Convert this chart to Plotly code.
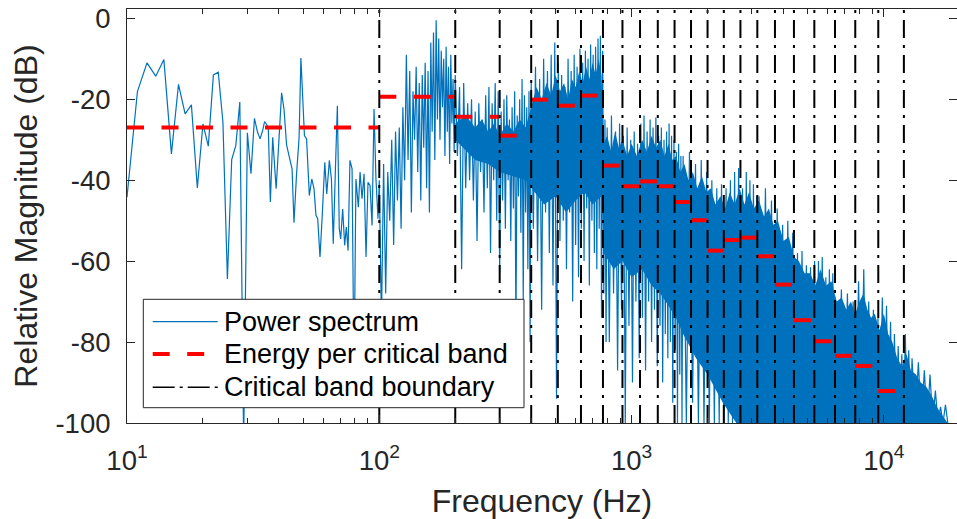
import plotly.graph_objects as go

# ---------------- data ----------------
# Power spectrum, 10-100 Hz (individual samples)
low_freq = [10, 11, 12, 13, 14, 15, 16, 17, 18, 19, 20, 21, 22, 23, 24, 25, 26, 27, 28, 29, 30, 31, 32,
            32.9, 33.7, 34.5, 35.1, 35.8, 36.3, 37.0, 37.8, 39.0, 39.9, 41.0, 41.9, 42.9, 44.0, 45.1, 45.9,
            47.0, 48.1, 48.9, 50.5, 51.5, 52.8, 54.0, 55.1, 56.1, 57.0, 58.2, 59.5, 60.8, 61.9, 63.4, 64.6,
            65.7, 67.0, 68.2, 69.4, 70.3, 71.6, 72.9, 74.0, 75.2, 76.5, 78.0, 79.4, 80.8, 82.6, 83.9, 85.4,
            87.0, 88.6, 90.2, 91.9, 93.6, 95.3, 97.0, 98.8]
low_db = [-44.2, -18.1, -11.0, -14.3, -10.2, -33.5, -16.3, -23.6, -21.4, -41.9, -26.1, -31.6, -14.0, -13.3, -25.7, -64.4, -34.9, -31.4, -20.7, -105, -28.3, -38.4, -24.7,
          -28.1, -29.8, -27.7, -25.5, -26.3, -26.9, -45.4, -29.4, -42.1, -31.4, -18.4, -22.4, -31.3, -34.3, -37.2, -50.5,
          -38.4, -29.4, -9.8, -29.0, -29.8, -43.8, -39.7, -42.1, -48.7, -49.5, -59.0, -47.9, -35.6, -43.4, -35.1, -39.7,
          -55.7, -37.2, -21.6, -52.0, -54.5, -47.1, -56.1, -51.6, -57.4, -35.1, -37.2, -90, -39.7, -46.7, -38.0, -44.6,
          -38.4, -59.0, -40.5, -41.3, -51.2, -22.4, -39.7, -49.5]

# Power spectrum above 100 Hz: alternating peak / trough readings per octave
oct1_freq = [100, 102, 104, 106, 108, 110, 112, 114, 116, 118, 120, 122, 124, 126, 128, 130, 132, 134, 136, 138,
             140, 142, 144, 146, 148, 150, 152, 154, 156, 158, 160, 162, 164, 166, 168, 170, 172, 174, 176, 178,
             180, 182, 184, 186, 188, 190, 192, 194, 196, 198]
oct1_db = [-40, -75, -36, -68, -38, -50, -30, -56, -28, -45, -27, -52, -22, -40, -9, -35, -13, -48, -18, -30,
           -12, -38, -16, -45, -14, -32, -11, -42, -13, -48, -6, -28, -3.5, -35, -0.5, -25, -5, -30, -8, -22,
           -10, -34, -7, -28, -12, -36, -9, -26, -15, -33]

oct2_freq = [200, 204, 208, 212, 216, 220, 224, 228, 232, 236, 240, 244, 248, 252, 256, 260, 264, 268, 272, 276,
             280, 284, 288, 292, 296, 300, 304, 308, 312, 316, 320, 324, 328, 332, 336, 340, 344, 348, 352, 356,
             360, 364, 368, 372, 376, 380, 384, 388, 392, 396]
oct2_db = [-14, -34, -17, -62, -16, -42, -21, -40, -20, -45, -23, -55, -21, -38, -25, -48, -19, -42, -17, -58,
           -21, -40, -16, -50, -18, -63, -23, -45, -20, -52, -19, -40, -25, -55, -22, -47, -18, -78, -24, -44,
           -20, -53, -15, -70, -19, -48, -22, -62, -18, -80]

oct3_freq = [400, 408, 416, 424, 432, 440, 448, 456, 464, 472, 480, 488, 496, 504, 512, 520, 528, 536, 544, 552,
             560, 568, 576, 584, 592, 600, 608, 616, 624, 632, 640, 648, 656, 664, 672, 680, 688, 696, 704, 712,
             720, 728, 736, 744, 752, 760, 768, 776, 784, 792]
oct3_db = [-16, -52, -12, -60, -15, -72, -10, -48, -13, -58, -9, -66, -6, -94, -11, -55, -14, -50, -17, -62,
           -10, -48, -13, -70, -9, -56, -12, -64, -7.5, -52, -11, -60, -8, -47, -10, -66, -6.5, -50, -9, -58,
           -7, -62, -5, -52, -4.3, -74, -8, -68, -25, -80]

oct4_freq = [800, 816, 832, 848, 864, 880, 896, 912, 928, 944, 960, 976, 992, 1008, 1024, 1040, 1056, 1072, 1088,
             1104, 1120, 1136, 1152, 1168, 1184, 1200, 1216, 1232, 1248, 1264, 1280, 1296, 1312, 1328, 1344, 1360,
             1376, 1392, 1408, 1424, 1440, 1456, 1472, 1488, 1504, 1520, 1536, 1552, 1568, 1584]
oct4_db = [-27, -80, -24, -68, -28, -87, -26, -72, -29, -100, -27, -76, -30, -90, -28, -70, -31, -84, -26,
           -74, -24, -87, -28, -70, -25, -80, -27, -72, -24.5, -86, -29, -76, -27, -90, -30, -78,
           -28, -84, -26, -80, -29, -95, -30, -82, -33, -100, -31, -88, -34, -100]

oct5_freq = [1600, 1648, 1696, 1744, 1792, 1840, 1888, 1936, 1984, 2032, 2080, 2128, 2176, 2224, 2272, 2320, 2368,
             2416, 2464, 2512, 2560, 2608, 2656, 2704, 2752, 2800, 2848, 2896, 2944, 2992, 3040, 3088, 3136, 3184]
oct5_db = [-34, -100, -33, -95, -36, -100, -35, -100, -38, -100, -40, -100, -42, -100, -41, -100, -42,
           -100, -40, -100, -38, -100, -37, -100, -42, -100, -38, -100, -40, -100, -41, -100, -44, -100]

oct6_freq = [3200, 3296, 3392, 3488, 3584, 3680, 3776, 3872, 3968, 4064, 4160, 4256, 4352, 4448, 4544, 4640, 4736,
             4832, 4928, 5024, 5120, 5216, 5312, 5408, 5504, 5600, 5696, 5792, 5888, 5984, 6080, 6176, 6272, 6368]
oct6_db = [-44, -100, -42, -100, -45, -100, -47, -100, -51, -100, -50, -100, -53, -100, -58, -100, -57.5,
           -100, -61, -100, -61.5, -100, -60, -100, -60, -100, -59, -100, -64, -100, -62, -100, -63, -100]

oct7_freq = [6400, 6592, 6784, 6976, 7168, 7360, 7552, 7744, 7936, 8128, 8320, 8512, 8704, 8896, 9088, 9280, 9472,
             9664, 9856, 10048, 10240, 10432, 10624, 10816, 11008, 11200, 11392, 11584, 11776, 11968, 12160,
             12352, 12544, 12736]
oct7_db = [-69, -100, -67, -100, -68, -100, -70, -100, -65, -100, -62, -100, -70, -100, -72, -100, -74,
           -100, -69, -100, -71, -100, -75, -100, -78, -100, -81, -100, -83, -100, -78,
           -100, -82, -100]

oct8_freq = [12928, 13312, 13696, 14080, 14464, 14848, 15232, 15616, 16000, 16384, 16768, 17152, 17536, 17920]
oct8_db = [-84, -100, -85, -100, -87, -100, -88, -100, -92, -100, -96, -100, -95.5, -100]

# Dense (solid) core of the spectrum: ragged upper edge and lower edge
core_top_freq = [200, 220, 240, 255, 270, 285, 300, 320, 340, 360, 380,
                 400, 420, 440, 460, 480, 500, 520, 540, 560, 580, 600, 620, 640, 660, 680, 700, 720, 740, 760, 775,
                 800, 830, 860, 890, 920, 960, 1000, 1050, 1100, 1150, 1200, 1250, 1300, 1350, 1400, 1450, 1500,
                 1560, 1620, 1680, 1750, 1820, 1900, 1980, 2060, 2150, 2250, 2350, 2450, 2560, 2680, 2800, 2920,
                 3050, 3200, 3350, 3500, 3650, 3800, 4000, 4200, 4400, 4600, 4850, 5100, 5350, 5600, 5900, 6200,
                 6500, 6800, 7100, 7400, 7700, 8000, 8300, 8600, 8900, 9200, 9600, 10000, 10400, 10800, 11300,
                 11800, 12300, 12800, 13400, 14000, 14700, 15400, 16200, 17000, 17900]
core_top = [-26, -24, -27, -25, -28, -26, -29, -26, -28, -25, -27,
            -22, -17, -20, -16, -19, -14, -18, -16, -20, -15, -17, -13, -16, -12, -15, -11, -14, -10, -14, -31,
            -29, -33, -28, -32, -30, -34, -31, -34, -30, -33, -29, -32, -30, -34, -31, -35, -34,
            -38, -36, -40, -38, -42, -39, -43, -42, -46, -44, -47, -43, -46, -42, -46, -43,
            -47, -45, -49, -47, -51, -50, -55, -54, -59, -60, -63, -63, -66, -62, -66, -65,
            -70, -69, -72, -70, -73, -70, -68, -72, -74, -73, -77, -73, -78, -80, -84,
            -86, -83, -87, -88, -90, -91, -93, -96, -98, -100]
core_bot_freq = [200, 240, 270, 300, 340, 380, 400, 450, 500, 550, 600, 650, 700, 760, 775, 850, 920, 1000,
                 1100, 1200, 1300, 1400, 1500, 1600, 1800, 2000, 2300, 2600, 17900]
core_bot = [-30, -35, -36, -38, -39, -40, -42, -46, -44, -48, -45, -43, -46, -44, -58, -62, -60, -64,
            -62, -66, -68, -71, -74, -78, -84, -88, -95, -100, -100]

# Critical bands
band_edges = [10, 100, 200, 300, 400, 510, 630, 770, 920, 1080, 1270, 1480, 1720, 2000, 2320, 2700, 3150,
              3700, 4400, 5300, 6400, 7700, 9500, 12000]
band_energy = [-27.0, -19.4, -24.3, -29.0, -20.1, -21.6, -19.1, -36.4, -41.5, -40.3, -41.5, -45.4, -49.9,
               -57.4, -54.8, -54.2, -58.8, -65.8, -74.6, -79.8, -83.4, -85.9, -92.1]
boundaries = band_edges[1:]

y_tick_vals = [-100, -80, -60, -40, -20, 0]
y_tick_text = ["-100", "-80", "-60", "-40", "-20", "0"]
x_tick_vals = [10, 100, 1000, 10000]
x_tick_text = ["10<sup>1</sup>", "10<sup>2</sup>", "10<sup>3</sup>", "10<sup>4</sup>"]
x_minor_vals = [20, 30, 40, 50, 60, 70, 80, 90, 200, 300, 400, 500, 600, 700, 800, 900,
                2000, 3000, 4000, 5000, 6000, 7000, 8000, 9000]

legend_labels = ["Power spectrum", "Energy per critical band", "Critical band boundary"]

# ---------------- figure ----------------
Y_MIN, Y_TOP = -100, 2.3
BLUE, RED, DARK = "#0072BD", "#FF0000", "#262626"
FONT = "Liberation Sans, Arial, Helvetica, sans-serif"

spec_freq = low_freq + oct1_freq + oct2_freq + oct3_freq + oct4_freq + oct5_freq + oct6_freq + oct7_freq + oct8_freq
spec_db = low_db + oct1_db + oct2_db + oct3_db + oct4_db + oct5_db + oct6_db + oct7_db + oct8_db

fig = go.Figure()

# solid core of the dense spectrum
fig.add_trace(go.Scatter(
    x=core_top_freq + core_bot_freq[::-1], y=core_top + core_bot[::-1],
    mode="lines", fill="toself", fillcolor=BLUE, line=dict(width=0),
    hoverinfo="skip", showlegend=False))

# spectrum line
fig.add_trace(go.Scatter(
    x=spec_freq, y=spec_db, mode="lines",
    line=dict(color=BLUE, width=1.2, simplify=False),
    name=legend_labels[0], showlegend=False))

# energy per critical band
ex, ey = [], []
for i, lvl in enumerate(band_energy):
    ex += [band_edges[i], band_edges[i + 1], None]
    ey += [lvl, lvl, None]
fig.add_trace(go.Scatter(
    x=ex, y=ey, mode="lines",
    line=dict(color=RED, width=4, dash="17px,17.5px"),
    name=legend_labels[1], showlegend=False))

# critical band boundaries (drawn bottom to top)
bx, by = [], []
for b in boundaries:
    bx += [b, b, None]
    by += [Y_MIN, Y_TOP, None]
fig.add_trace(go.Scatter(
    x=bx, y=by, mode="lines",
    line=dict(color="black", width=2, dash="18px,7px,3px,7px"),
    name=legend_labels[2], showlegend=False))

# ---------------- layout ----------------
W, H = 957, 519
ML, MR, MT, MB = 127, 0, 9, 96
PW, PH = W - ML - MR, H - MT - MB


def fx(px):
    return (px - ML) / PW


def fy(py):
    return (H - MB - py) / PH


shapes = [dict(type="rect", xref="paper", yref="paper",
               x0=fx(143.3), x1=fx(524), y0=fy(407.7), y1=fy(299.3),
               line=dict(color=DARK, width=1), fillcolor="white", layer="above")]
rows = [321.7, 354.0, 387.3]
styles = [dict(color=BLUE, width=1.2),
          dict(color=RED, width=4, dash="17px,17.5px"),
          dict(color="black", width=1.5, dash="22px,5px,3px,5px")]
annotations = []
for r, st, lab in zip(rows, styles, legend_labels):
    shapes.append(dict(type="line", xref="paper", yref="paper",
                       x0=fx(152.7), x1=fx(217.7), y0=fy(r), y1=fy(r),
                       line=st, layer="above"))
    annotations.append(dict(xref="paper", yref="paper", x=fx(222), y=fy(r),
                            xanchor="left", yanchor="middle", showarrow=False,
                            text=lab, font=dict(family=FONT, size=27, color="black")))

fig.update_layout(
    width=W, height=H,
    margin=dict(l=ML, r=MR, t=MT, b=MB, pad=0),
    paper_bgcolor="white", plot_bgcolor="white",
    showlegend=False,
    font=dict(family=FONT, color=DARK),
    shapes=shapes, annotations=annotations,
    xaxis=dict(
        type="log", range=[1, 1 + PW / 252.3], automargin=False,
        showline=True, linecolor=DARK, linewidth=1, mirror="ticks",
        ticks="inside", ticklen=8, tickwidth=1, tickcolor=DARK,
        tickmode="array", tickvals=x_tick_vals, ticktext=x_tick_text,
        tickfont=dict(family=FONT, size=27.5, color=DARK),
        ticklabelstandoff=13,
        minor=dict(ticks="inside", ticklen=5, tickwidth=1, tickcolor=DARK,
                   tickmode="array", tickvals=x_minor_vals, showgrid=False),
        showgrid=False, zeroline=False,
        title=dict(text="Frequency (Hz)", font=dict(family=FONT, size=32, color=DARK), standoff=14),
    ),
    yaxis=dict(
        range=[Y_MIN, Y_TOP], automargin=False,
        showline=True, linecolor=DARK, linewidth=1, mirror="ticks",
        ticks="inside", ticklen=8, tickwidth=1, tickcolor=DARK,
        tickmode="array", tickvals=y_tick_vals, ticktext=y_tick_text,
        tickfont=dict(family=FONT, size=27.5, color=DARK),
        ticklabelstandoff=10,
        showgrid=False, zeroline=False,
        title=dict(text="Relative Magnitude (dB)", font=dict(family=FONT, size=32, color=DARK), standoff=8),
    ),
)

fig.write_html("out.html",
               config={"displayModeBar": False},
               post_script="document.body.style.margin='0px';document.body.style.overflow='hidden';")
